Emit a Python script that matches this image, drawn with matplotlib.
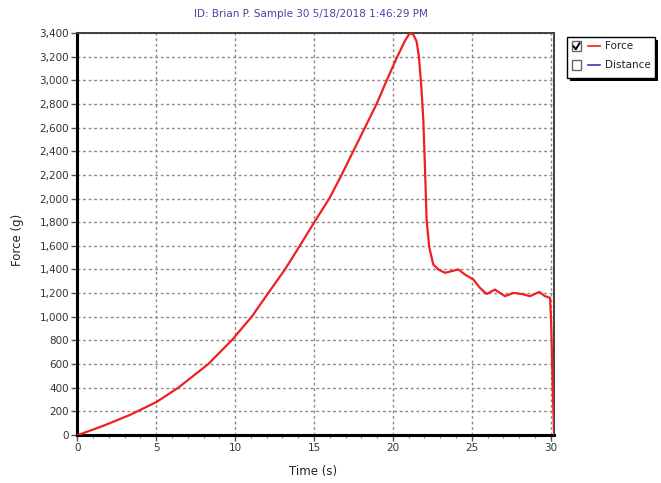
import numpy as np
import matplotlib
matplotlib.use("Agg")
import matplotlib.pyplot as plt
from matplotlib.patches import Rectangle
from matplotlib.lines import Line2D
from matplotlib.ticker import FuncFormatter, MultipleLocator

# force curve
time_s = [0.0, 0.3, 1.65, 3.34, 5.03, 6.40, 8.30, 9.78, 11.05, 12.10, 13.16,
          14.10, 15.02, 15.97, 16.75, 17.49, 18.23, 18.97, 19.61, 20.28, 20.77,
          20.98, 21.12, 21.3, 21.5, 21.65, 21.8, 21.93, 22.04, 22.14, 22.31,
          22.56, 22.88, 23.1, 23.31, 23.73, 24.15, 24.57, 25.10, 25.52, 25.94,
          26.47, 27.11, 27.63, 28.16, 28.69, 29.28, 29.64, 29.85, 29.96, 30.03,
          30.13, 30.22]
force_g = [0, 12, 78, 170, 280, 400, 600, 800, 1000, 1200, 1400,
           1600, 1800, 2000, 2200, 2400, 2600, 2800, 3000, 3200, 3335,
           3380, 3400, 3385, 3330, 3200, 2950, 2660, 2234, 1810, 1584,
           1442, 1400, 1385, 1372, 1386, 1400, 1357, 1315, 1244, 1193,
           1230, 1174, 1202, 1193, 1174, 1210, 1174, 1165, 1160, 960,
           400, 0]

x_ticks = [0, 5, 10, 15, 20, 25, 30]
y_ticks = list(range(0, 3401, 200))
legend_names = ["Force", "Distance"]
legend_colors = ["#ee2020", "#3a3ab0"]
legend_checked = [True, False]

W, H = 661, 483
fig = plt.figure(figsize=(W / 100, H / 100), dpi=100)
plt.rcParams['font.family'] = ['DejaVu Sans']


def fx(px):
    return px / W


def fy(py):
    return 1 - py / H


ax = fig.add_axes([fx(77.3), fy(435), fx(554.3) - fx(77.3), fy(33) - fy(435)])
ax.plot(time_s, force_g, color="#ee2020", lw=1.6, solid_joinstyle="round", zorder=3)

ax.set_xlim(0, 30.23)
ax.set_ylim(0, 3400)
ax.set_xticks(x_ticks)
ax.set_yticks(y_ticks)
ax.xaxis.set_minor_locator(MultipleLocator(1))
ax.yaxis.set_major_formatter(FuncFormatter(lambda v, p: f"{int(v):,}"))
ax.tick_params(axis="both", which="major", direction="out", length=4, width=1,
               labelsize=7.5, labelcolor="#333333", color="#555555", pad=2)
ax.tick_params(axis="x", which="minor", direction="out", length=2, width=0.8, color="#777777")
ax.grid(True, which="major", color="#8a8a8a", linestyle=(0, (2, 2)), lw=1)

for side in ["left", "bottom"]:
    ax.spines[side].set_linewidth(2.2)
    ax.spines[side].set_color("black")
for side in ["top", "right"]:
    ax.spines[side].set_linewidth(1.4)
    ax.spines[side].set_color("#404040")

fig.text(fx(311), fy(14), "ID: Brian P. Sample 30 5/18/2018 1:46:29 PM",
         ha="center", va="center", fontsize=7.5, color="#4545a8")
fig.text(fx(313), fy(472), "Time (s)", ha="center", va="center", fontsize=8.5, color="#222222")
fig.text(fx(17), fy(240), "Force (g)", ha="center", va="center", rotation=90,
         fontsize=8.5, color="#222222")

# legend box with shadow and check boxes
fig.add_artist(Rectangle((fx(570), fy(81)), fx(655) - fx(567), fy(37) - fy(78),
                         transform=fig.transFigure, facecolor="black", edgecolor="none"))
fig.add_artist(Rectangle((fx(567), fy(78)), fx(655) - fx(567), fy(37) - fy(78),
                         transform=fig.transFigure, facecolor="white", edgecolor="black", lw=1))
rows_y = [46.3, 64.7]
for name, col, chk, ry in zip(legend_names, legend_colors, legend_checked, rows_y):
    fig.add_artist(Rectangle((fx(572), fy(ry + 5)), fx(581) - fx(572), fy(ry - 5) - fy(ry + 5),
                             transform=fig.transFigure, facecolor="white",
                             edgecolor="#666666", lw=1))
    if chk:
        fig.add_artist(Line2D([fx(573.5), fx(575.8), fx(579.5)], [fy(ry), fy(ry + 3), fy(ry - 3)],
                              transform=fig.transFigure, color="black", lw=1.4))
    fig.add_artist(Line2D([fx(588), fx(600)], [fy(ry), fy(ry)], transform=fig.transFigure,
                          color=col, lw=1.2))
    fig.text(fx(605), fy(ry), name, ha="left", va="center", fontsize=7.5, color="#222222")

fig.savefig("out.png", dpi=100)
